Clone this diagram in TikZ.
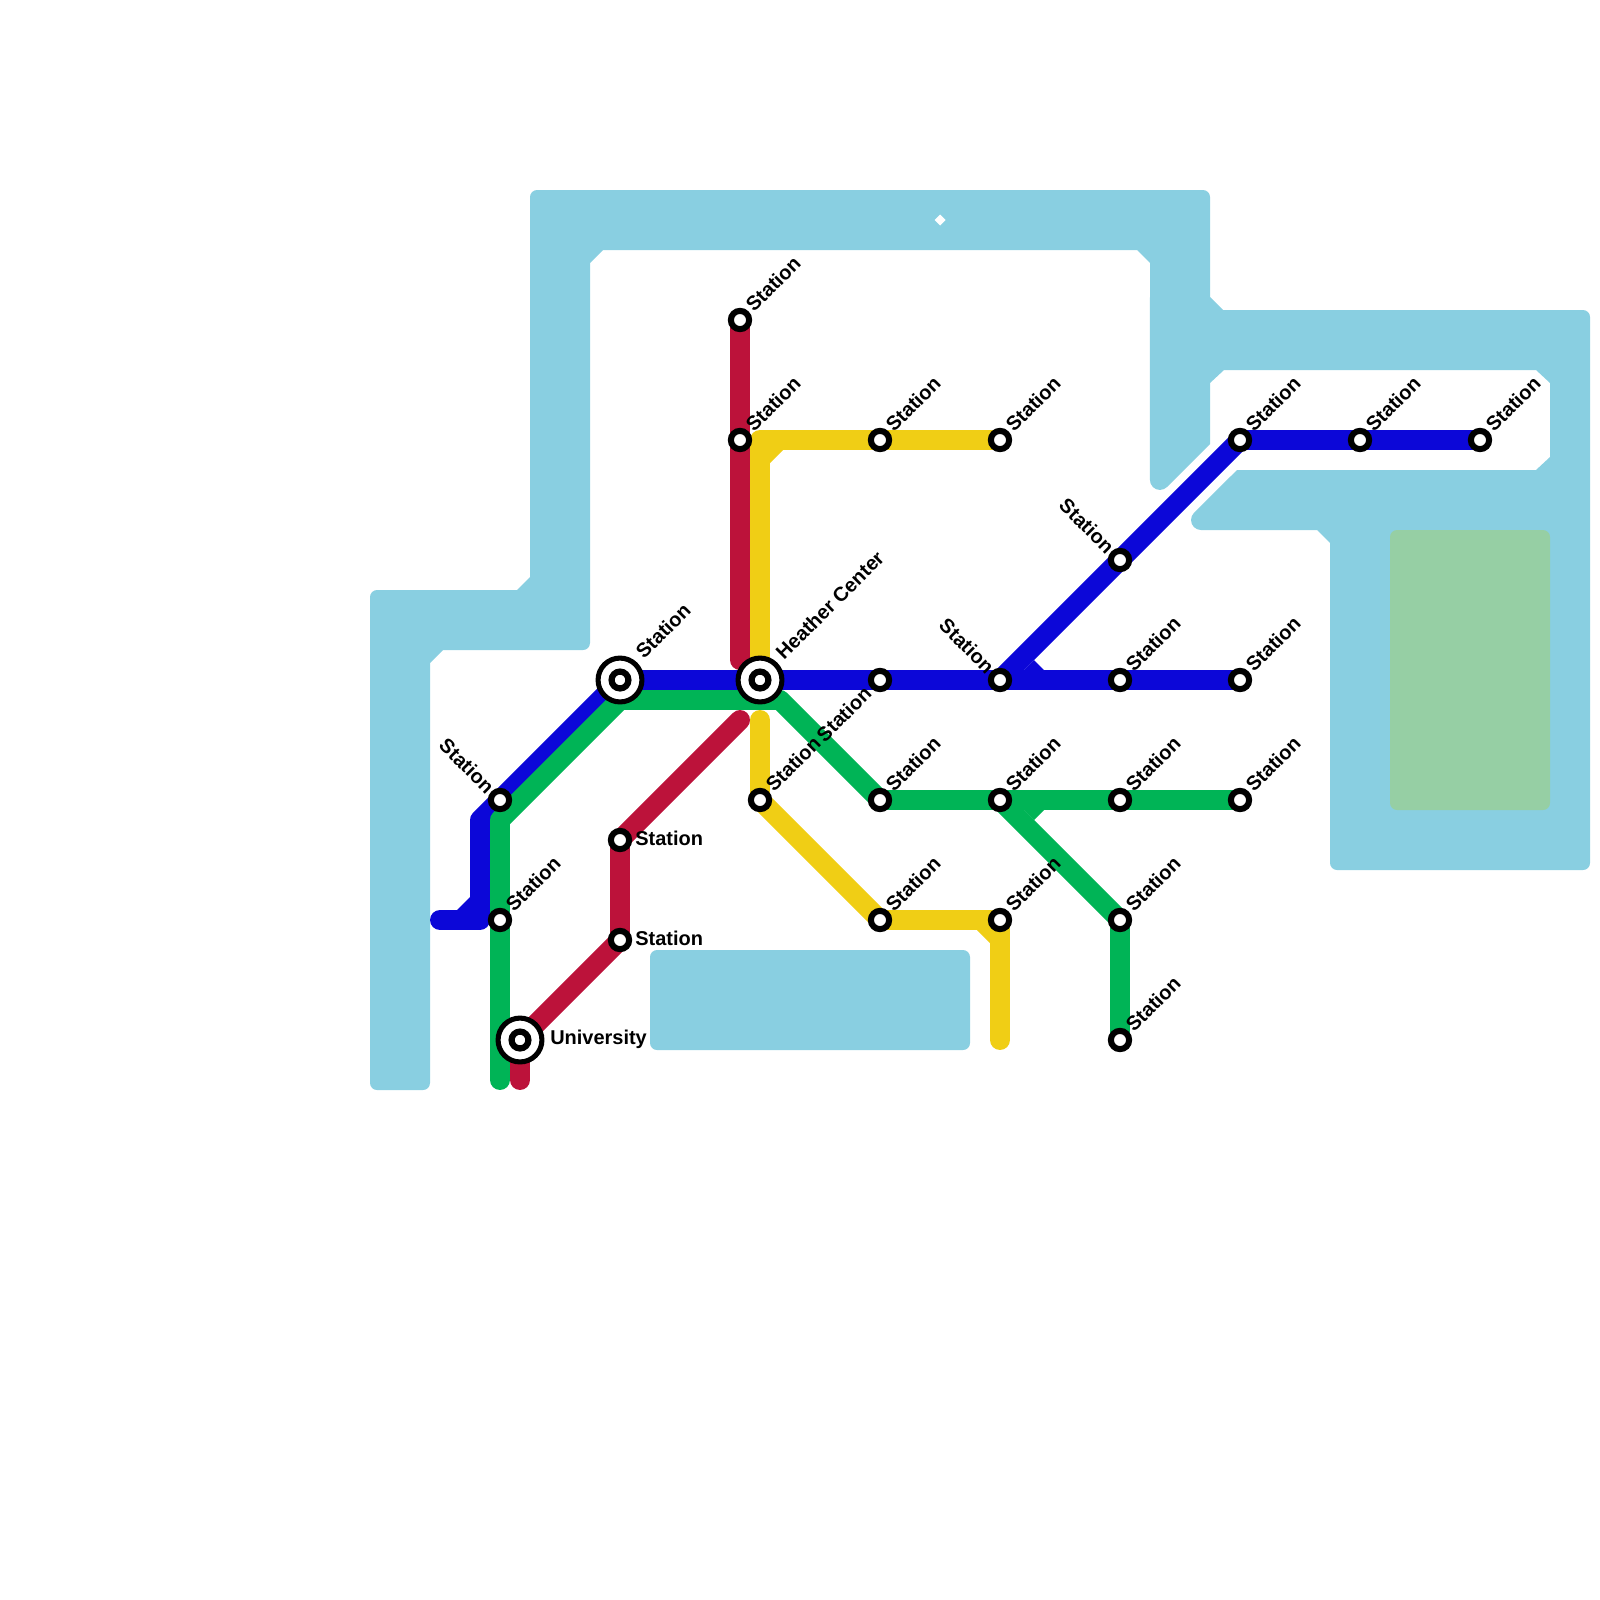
\documentclass[tikz,border=0pt]{standalone}
\usepackage{fontspec}
\setmainfont{Liberation Sans}
\usetikzlibrary{backgrounds}
\definecolor{waterblue}{HTML}{89CFE1}
\definecolor{parkgreen}{HTML}{96CFA4}
\definecolor{lineblue}{HTML}{0C07D8}
\definecolor{linegreen}{HTML}{00B456}
\definecolor{linered}{HTML}{BC123A}
\definecolor{lineyellow}{HTML}{F0CE15}
\tikzset{
  metroline/.style={line width=14.2pt,line cap=round,line join=round},
  stn/.style={circle,draw=black,fill=white,line width=4.3pt,inner sep=0pt,outer sep=0pt,minimum size=13pt},
  hubcore/.style={circle,draw=black,fill=white,line width=4.4pt,inner sep=0pt,outer sep=0pt,minimum size=12pt},
  hub/.style={circle,draw=black,fill=white,line width=3.6pt,inner sep=0pt,outer sep=0pt,minimum size=31.2pt},
  lab/.style={font=\fontsize{14.2}{16}\selectfont\bfseries,inner sep=0pt},
  rc/.style={rounded corners=5pt},
  sc/.style={sharp corners}
}
\begin{document}
\begin{tikzpicture}[x=0.025cm,y=-0.025cm]
  \useasboundingbox (0,0) rectangle (1600,1600);
  \foreach \nm/\xs/\ys in {redtop/740/320,redyellow/740/440,ytwo/880/440,ythree/1000/440,
      bluetop/1240/440,bluemid/1360/440,blueend/1480/440,
      bluefork/1120/680,blueright/1240/680,
      gone/880/800,gtwo/1000/800,gthree/1120/800,gfour/1240/800,
      ylow/760/800,yfour/880/920,yfive/1000/920,gsix/1120/920,gend/1120/1040,gleft/500/920}{
    \node[stn] (\nm) at (\xs,\ys) {};
    \node[lab,rotate=45,anchor=base west] (\nm-lab) at (\xs+14,\ys-7) {Station};
  }
  \foreach \nm/\xs/\ys in {blueup/1120/560,bluesplit/1000/680,bgleft/500/800}{
    \node[stn] (\nm) at (\xs,\ys) {};
    \node[lab,rotate=-45,anchor=base east] (\nm-lab) at (\xs-14,\ys-5) {Station};
  }
  \node[stn] (bluecross) at (880,680) {};
  \node[lab,rotate=45,anchor=base east] (bluecross-lab) at (873,695) {Station};
  \node[stn] (redup) at (620,840) {};
  \node[lab,anchor=west] (redup-lab) at (635,838) {Station};
  \node[stn] (reddown) at (620,940) {};
  \node[lab,anchor=west] (reddown-lab) at (635,938) {Station};

  \node[hub] (hubwest) at (620,680) {};
  \node[hubcore] (hubwest-core) at (620,680) {};
  \node[lab,rotate=45,anchor=base west] (hubwest-lab) at (644,660) {Station};
  \node[hub] (heather) at (760,680) {};
  \node[hubcore] (heather-core) at (760,680) {};
  \node[lab,rotate=45,anchor=base west] (heather-lab) at (784,661) {Heather Center};
  \node[hub] (uni) at (520,1040) {};
  \node[hubcore] (uni-core) at (520,1040) {};
  \node[lab,anchor=west] (uni-lab) at (550,1039) {University};

  \coordinate (redgap) at (740,660);
  \coordinate (redstart) at (740,720);
  \coordinate (redfoot) at (520,1080);
  \coordinate (yellowstart) at (760,720);
  \coordinate (yellowfoot) at (1000,1040);
  \coordinate (bluestub) at (440,920);
  \coordinate (greenfoot) at (500,1080);

  \begin{pgfonlayer}{background}
    \fill[waterblue] (517,590) -- (530,577) [rc] -- (530,190) -- (1210,190) [sc] -- (1210,297) -- (1223,310)
      [rc] -- (1590,310) -- (1590,870) -- (1330,870) [sc] -- (1330,543) -- (1317,530)
      -- (1201,530) arc[start angle=90,end angle=225,radius=10] -- (1237,470)
      -- (1536,470) -- (1550,457) -- (1550,383) -- (1536,370)
      -- (1224,370) -- (1210,383) -- (1210,444) -- (1167,487) arc[start angle=45,end angle=180,radius=10]
      -- (1150,263) -- (1137,250)
      -- (603,250) -- (590,263) [rc] -- (590,650) [sc] -- (443,650) -- (430,663)
      [rc] -- (430,1090) -- (370,1090) -- (370,590) [sc] -- cycle;
    \fill[waterblue,rc] (650,950) rectangle (970,1050);
    \fill[parkgreen,rc] (1390,530) rectangle (1550,810);
    \fill[white] (940,214.5) -- (945.5,220) -- (940,225.5) -- (934.5,220) -- cycle;

    \draw[metroline,linered] (redtop.center) -- (redyellow.center) -- (redgap);
    \draw[metroline,linered] (redstart) -- (redup.center) -- (reddown.center) -- (uni.center) -- (redfoot);

    \draw[metroline,lineyellow] (ythree.center) -- (ytwo.center) -- (760,440) -- (heather.center);
    \draw[metroline,lineyellow] (yellowstart) -- (ylow.center) -- (yfour.center) -- (yfive.center) -- (yellowfoot);
    \fill[lineyellow] (770,450) -- (783,450) -- (770,463) -- cycle;
    \fill[lineyellow] (990,930) -- (977,930) -- (990,943) -- cycle;

    \draw[metroline,lineblue] (bluestub) -- (480,920) -- (480,820) -- (hubwest.center) -- (heather.center)
      -- (bluecross.center) -- (bluesplit.center) -- (bluefork.center) -- (blueright.center);
    \draw[metroline,lineblue] (bluesplit.center) -- (blueup.center) -- (bluetop.center) -- (bluemid.center) -- (blueend.center);
    \fill[lineblue] (470,910) -- (457,910) -- (470,897) -- cycle;
    \fill[lineblue] (1024,670) -- (1034,660) -- (1044,670) -- cycle;

    \draw[metroline,linegreen] (greenfoot) -- (gleft.center) -- (500,820) -- (620,700) -- (780,700) -- (gone.center) -- (gtwo.center)
      -- (gthree.center) -- (gfour.center);
    \draw[metroline,linegreen] (gtwo.center) -- (gsix.center) -- (gend.center);
    \fill[linegreen] (1024,810) -- (1034,820) -- (1044,810) -- cycle;
  \end{pgfonlayer}
\end{tikzpicture}
\end{document}
